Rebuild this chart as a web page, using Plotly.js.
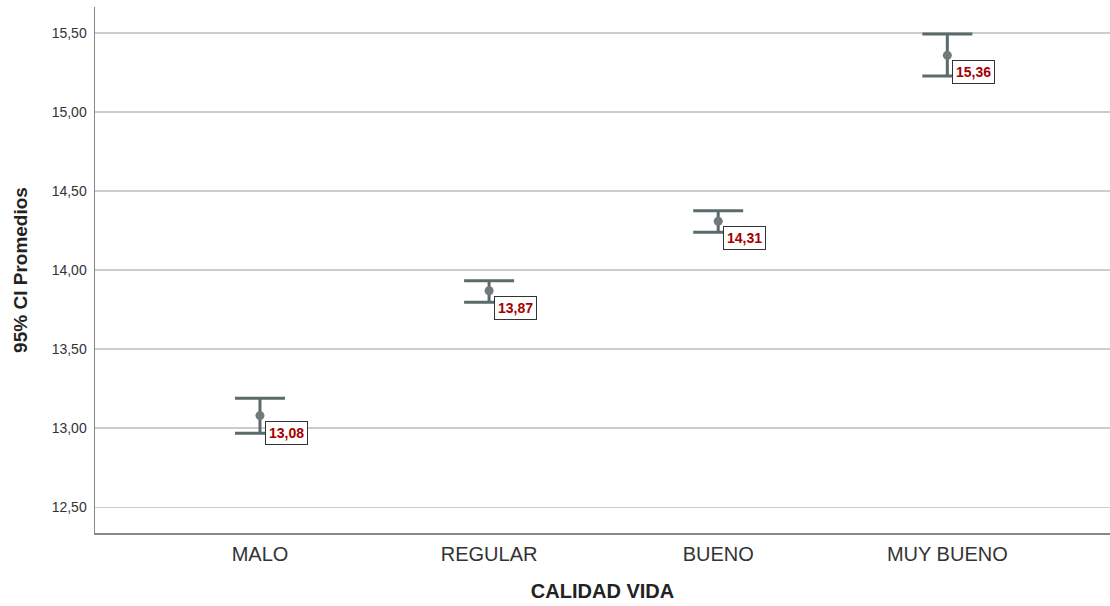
<!DOCTYPE html>
<html>
<head>
<meta charset="utf-8">
<script src="https://cdn.plot.ly/plotly-3.0.1.min.js"></script>
<style>html,body{margin:0;padding:0;background:#fff;}#chart{width:1110px;height:606px;}</style>
</head>
<body>
<div id="chart"></div>
<script>
const categories = ['MALO', 'REGULAR', 'BUENO', 'MUY BUENO'];
const means = [13.08, 13.87, 14.31, 15.36];
const upper = [13.19, 13.934, 14.377, 15.495];
const lower = [12.968, 13.797, 14.24, 15.23];
const yTicks = [12.5, 13.0, 13.5, 14.0, 14.5, 15.0, 15.5];

const xIdx = categories.map((c, i) => i);
const errPlus = means.map((m, i) => upper[i] - m);
const errMinus = means.map((m, i) => m - lower[i]);

const trace = {
  type: 'scatter',
  mode: 'markers',
  x: xIdx,
  y: means,
  marker: {size: 9, color: '#737878'},
  error_y: {
    type: 'data', symmetric: false,
    array: errPlus, arrayminus: errMinus,
    thickness: 3, width: 25, color: '#5b6a6a'
  },
  hoverinfo: 'skip'
};

const annotations = means.map((m, i) => ({
  x: i, y: m, xref: 'x', yref: 'y',
  text: '<b>' + m.toFixed(2).replace('.', ',') + '</b>',
  showarrow: false,
  xanchor: 'left', yanchor: 'top',
  xshift: 5, yshift: -5,
  font: {family: 'Liberation Sans, Arial, sans-serif', size: 14, color: '#a50000'},
  bgcolor: '#ffffff',
  bordercolor: '#333333', borderwidth: 1, borderpad: 3
}));

const layout = {
  width: 1110, height: 606,
  margin: {l: 95, r: 0, t: 7, b: 73},
  paper_bgcolor: '#ffffff', plot_bgcolor: '#ffffff',
  separators: ',.',
  showlegend: false,
  font: {family: 'Liberation Sans, Arial, sans-serif', color: '#333333'},
  xaxis: {
    range: [-0.72, 3.71],
    tickmode: 'array', tickvals: xIdx, ticktext: categories,
    showgrid: false, zeroline: false,
    showline: true, linecolor: '#888888', linewidth: 1.5,
    ticks: '', ticklabelstandoff: 2, tickfont: {size: 20, color: '#333333'},
    title: {text: '<b>CALIDAD VIDA</b>', font: {size: 20, color: '#222222'}, standoff: 20}
  },
  yaxis: {
    range: [12.337, 15.666],
    tickmode: 'array', tickvals: yTicks, tickformat: '.2f',
    showgrid: true, gridcolor: '#cccccc', gridwidth: 1.5,
    zeroline: false,
    showline: true, linecolor: '#888888', linewidth: 1.5,
    ticks: '', ticklabelstandoff: 4, tickfont: {size: 14, color: '#333333'},
    title: {text: '<b>95% CI Promedios</b>', font: {size: 19, color: '#222222'}, standoff: 19}
  },
  annotations: annotations
};

Plotly.newPlot('chart', [trace], layout, {displayModeBar: false, staticPlot: true});
</script>
</body>
</html>
